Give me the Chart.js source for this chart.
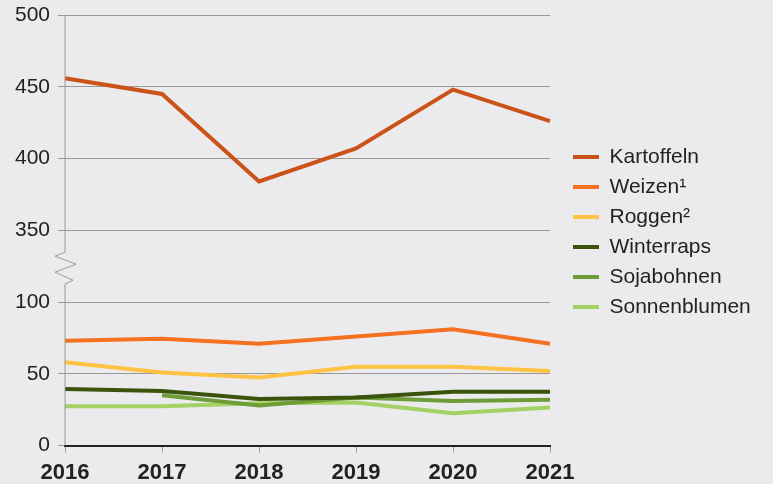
<!DOCTYPE html>
<html lang="de">
<head>
<meta charset="UTF-8">
<title>Erträge</title>
<script src="https://cdn.jsdelivr.net/npm/chart.js"></script>
<style>
    body { margin: 0; background: #ebebee; }
    #wrap { width: 773px; height: 484px; }
</style>
</head>
<body>
<div id="wrap"><canvas id="chart"></canvas></div>
<script>
    // data
    const years = ['2016', '2017', '2018', '2019', '2020', '2021'];
    const kartoffeln = [456, 445, 384, 407, 448, 426];
    const weizen = [73, 74.5, 71, 76, 81, 71];
    const roggen = [58, 51, 47.5, 55, 55, 52];
    const winterraps = [39.5, 38, 32.5, 33.5, 37.5, 37.5];
    const sojabohnen = [null, 35, 28, 33.5, 31, 32];
    const sonnenblumen = [27.5, 27.5, 29.5, 30, 22.5, 26.5];
    const yTicks = [0, 50, 100, 350, 400, 450, 500];

    // broken axis: 0..100 below the break, 350..500 above it
    function squash(v) {
        if (v === null) return null;
        return v <= 100 ? v / 50 : (v - 350) / 50 + 3;
    }

    const breakPlugin = {
        id: 'axisBreak',
        afterLayout(chart) {
            // nudge the legend block next to the plot like in the original
            const l = chart.legend;
            l.left += 14; l.right = chart.width;
            l.top -= 22; l.bottom -= 22;
        },
        afterDraw(chart) {
            const ctx = chart.ctx;
            const y = chart.scales.y;
            const x0 = chart.chartArea.left;
            const mid = y.getPixelForValue(2.5);
            const top = mid - 14, bot = mid + 18;
            ctx.save();
            ctx.strokeStyle = '#999';
            ctx.lineWidth = 1;
            ctx.beginPath();
            ctx.moveTo(x0, y.getPixelForValue(6));
            ctx.lineTo(x0, top);
            ctx.lineTo(x0 - 10, top + 4);
            ctx.lineTo(x0 + 11, top + 12);
            ctx.lineTo(x0 - 10, top + 20);
            ctx.lineTo(x0 + 8, top + 28);
            ctx.lineTo(x0, bot);
            ctx.lineTo(x0, y.getPixelForValue(0));
            ctx.stroke();
            ctx.restore();
        }
    };

    function series(label, values, color) {
        return {
            label: label,
            data: values.map(squash),
            borderColor: color,
            backgroundColor: color,
            borderWidth: 4,
            pointRadius: 0,
            tension: 0
        };
    }

    new Chart(document.getElementById('chart'), {
        type: 'line',
        data: {
            labels: years,
            datasets: [
                series('Kartoffeln', kartoffeln, '#cb5319'),
                series('Weizen\u00b9', weizen, '#f37121'),
                series('Roggen\u00b2', roggen, '#fec342'),
                series('Winterraps', winterraps, '#3a540c'),
                series('Sojabohnen', sojabohnen, '#6e9c36'),
                series('Sonnenblumen', sonnenblumen, '#a3d163')
            ]
        },
        options: {
            responsive: true,
            maintainAspectRatio: false,
            animation: false,
            layout: { padding: { top: 15, left: 7, right: 42, bottom: -9 } },
            plugins: {
                tooltip: { enabled: false },
                legend: {
                    position: 'right',
                    labels: {
                        color: '#222',
                        font: { family: 'Liberation Sans', size: 21 },
                        boxWidth: 26,
                        boxHeight: 4,
                        padding: 9,
                        generateLabels(chart) {
                            return chart.data.datasets.map((ds, i) => ({
                                text: ds.label,
                                fillStyle: ds.borderColor,
                                strokeStyle: ds.borderColor,
                                lineWidth: 0,
                                fontColor: '#222',
                                datasetIndex: i
                            }));
                        }
                    }
                }
            },
            scales: {
                x: {
                    offset: false,
                    grid: { drawOnChartArea: false, color: '#999', tickLength: 7 },
                    border: { color: '#222', width: 2 },
                    ticks: {
                        color: '#222',
                        padding: 7,
                        maxRotation: 0,
                        font: { family: 'Liberation Sans', size: 22, weight: 'bold' }
                    }
                },
                y: {
                    min: 0,
                    max: 6,
                    grid: { color: '#999', tickLength: 7 },
                    border: { display: false },
                    ticks: {
                        stepSize: 1,
                        color: '#222',
                        padding: 8,
                        font: { family: 'Liberation Sans', size: 21, lineHeight: 0.6 },
                        callback: v => yTicks[v]
                    }
                }
            }
        },
        plugins: [breakPlugin]
    });
</script>
</body>
</html>
